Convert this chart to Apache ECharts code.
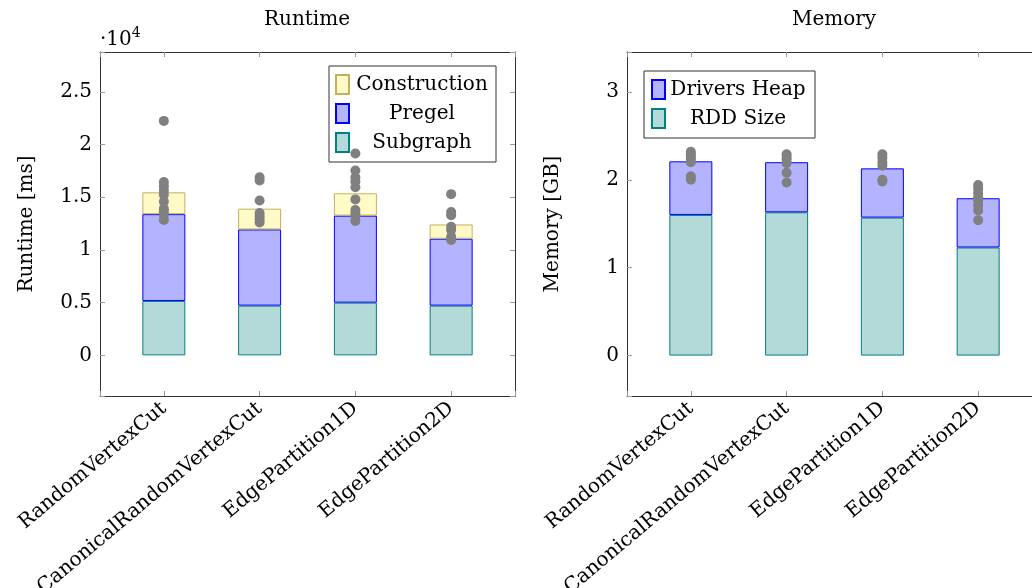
<!DOCTYPE html>
<html><head><meta charset="utf-8">
<script src="https://cdn.jsdelivr.net/npm/echarts@6/dist/echarts.min.js"></script>
<style>html,body{margin:0;padding:0;background:#fff}#c{width:1032px;height:588px}</style>
</head><body><div id="c"></div>
<script>
const categories = ['RandomVertexCut', 'CanonicalRandomVertexCut', 'EdgePartition1D', 'EdgePartition2D'];
// Runtime (ms)
const subgraph = [5160, 4720, 5000, 4720];
const pregel = [8240, 7230, 8260, 6350];
const construction = [2070, 1970, 2120, 1350];
const runtimeSamples = [
  [22250, 16450, 16050, 15650, 15250, 14600, 13900, 13600, 13300, 12850],
  [16900, 16600, 14700, 13500, 13200, 12900, 12600],
  [19150, 17550, 16900, 16500, 15950, 14800, 13800, 13450, 13150, 12750],
  [15300, 13600, 13300, 12200, 11900, 11250, 10950]
];
// Memory (GB)
const rddSize = [1.60, 1.63, 1.57, 1.23];
const driversHeap = [0.61, 0.57, 0.56, 0.56];
const memorySamples = [
  [2.32, 2.29, 2.26, 2.23, 2.20, 2.04, 2.00],
  [2.29, 2.26, 2.23, 2.19, 2.08, 1.97],
  [2.29, 2.25, 2.20, 2.16, 2.00, 1.98],
  [1.94, 1.90, 1.85, 1.80, 1.76, 1.71, 1.65, 1.54]
];
const runtimeTicks = [0, 5000, 10000, 15000, 20000, 25000];
const runtimeTickLabels = ['0', '0.5', '1', '1.5', '2', '2.5'];
const memoryTicks = [0, 1, 2, 3];
const memoryTickLabels = ['0', '1', '2', '3'];

const FONT = 'DejaVu Serif';
const chart = echarts.init(document.getElementById('c'));

function xAxes(gi) {
  const common = {
    type: 'value', gridIndex: gi, min: -2 / 3, max: 11 / 3, splitNumber: 5, minInterval: 1, maxInterval: 1,
    splitLine: {show: false},
    axisLine: {show: true, onZero: false, lineStyle: {color: '#333', width: 1}},
    axisTick: {show: true, inside: true, length: 5, lineStyle: {color: '#999'}}
  };
  return [
    Object.assign({}, common, {position: 'bottom', axisLabel: {
      show: true, rotate: 40, margin: 10, fontFamily: FONT, fontSize: 20, color: '#000',
      formatter: v => { const i = Math.round(v); return (Math.abs(v - i) < 1e-6 && categories[i]) ? categories[i] : ''; }
    }}),
    Object.assign({}, common, {position: 'top', axisLabel: {show: false}})
  ];
}
function yAxes(gi, min, max, step, ticks, labels, name, gap) {
  const common = {
    type: 'value', gridIndex: gi, min: min, max: max, splitNumber: 6, minInterval: step, maxInterval: step,
    splitLine: {show: false},
    axisLine: {show: true, onZero: false, lineStyle: {color: '#333', width: 1}},
    axisTick: {show: true, inside: true, length: 5, lineStyle: {color: '#999'}}
  };
  const fmt = v => { const k = ticks.findIndex(t => Math.abs(t - v) < step * 1e-6); return k < 0 ? '' : labels[k]; };
  return [
    Object.assign({}, common, {position: 'left', name: name, nameLocation: 'middle', nameGap: gap,
      nameTextStyle: {fontFamily: FONT, fontSize: 20, color: '#000'},
      axisLabel: {show: true, margin: 8, fontFamily: FONT, fontSize: 20, color: '#000', formatter: fmt}}),
    Object.assign({}, common, {position: 'right', axisLabel: {show: false}})
  ];
}
function bar(name, vals, xi, yi, stack, fill, border) {
  // value first so that the y dimension is the stacked one
  return {type: 'bar', name: name, xAxisIndex: xi, yAxisIndex: yi, stack: stack, barWidth: 43,
    encode: {x: 1, y: 0},
    data: vals.map((v, i) => [v, i]),
    itemStyle: {color: fill, borderColor: border, borderWidth: 1}};
}
function dots(samples, xi, yi) {
  const d = [];
  samples.forEach((arr, i) => arr.forEach(v => d.push([i, v])));
  return {type: 'scatter', xAxisIndex: xi, yAxisIndex: yi, symbolSize: 10, data: d,
    itemStyle: {color: '#808080', opacity: 1}, z: 5};
}
function legend(names, left, top, pad) {
  return {data: names, orient: 'vertical', left: left, top: top, padding: pad, itemGap: 8,
    itemWidth: 13, itemHeight: 19, icon: 'rect', borderColor: '#333', borderWidth: 1, selectedMode: false,
    formatter: n => '{t|' + n + '}',
    textStyle: {rich: {t: {width: 136, align: 'center', fontFamily: FONT, fontSize: 20, lineHeight: 20, color: '#000'}}}};
}

const titleStyle = {fontFamily: FONT, fontSize: 20, fontWeight: 'normal', color: '#000'};
chart.setOption({
  animation: false,
  backgroundColor: '#fff',
  title: [
    {text: 'Runtime', left: 307, top: 10, textAlign: 'center', padding: 0, textStyle: titleStyle},
    {text: 'Memory', left: 834, top: 10, textAlign: 'center', padding: 0, textStyle: titleStyle},
    {text: '{a|·10}{b|4}', left: 100, top: 26, padding: 0, textStyle: {fontWeight: 'normal', rich: {
      a: {fontFamily: FONT, fontSize: 20, fontWeight: 'normal', color: '#000', lineHeight: 24, verticalAlign: 'bottom'},
      b: {fontFamily: FONT, fontSize: 14, fontWeight: 'normal', color: '#000', lineHeight: 14, verticalAlign: 'top'}}}}
  ],
  grid: [
    {left: 100, top: 52, width: 415, height: 344, containLabel: false, outerBoundsMode: 'none'},
    {left: 627, top: 52, width: 415, height: 344, containLabel: false, outerBoundsMode: 'none'}
  ],
  xAxis: xAxes(0).concat(xAxes(1)),
  yAxis: yAxes(0, -3860, 28790, 5000, runtimeTicks, runtimeTickLabels, 'Runtime [ms]', 63)
    .concat(yAxes(1, -0.46, 3.454, 1, memoryTicks, memoryTickLabels, 'Memory [GB]', 64)),
  legend: [
    legend(['Construction', 'Pregel', 'Subgraph'], 329, 66, [8, 6, 9, 6]),
    legend(['Drivers Heap', 'RDD Size'], 644, 71, [8, 9, 9, 7])
  ],
  series: [
    bar('Subgraph', subgraph, 0, 0, 'rt', '#b3d9d9', '#008080'),
    bar('Pregel', pregel, 0, 0, 'rt', '#b3b3ff', '#0000ff'),
    bar('Construction', construction, 0, 0, 'rt', '#fffac6', '#c0b060'),
    dots(runtimeSamples, 0, 0),
    bar('RDD Size', rddSize, 2, 2, 'mem', '#b3d9d9', '#008080'),
    bar('Drivers Heap', driversHeap, 2, 2, 'mem', '#b3b3ff', '#0000ff'),
    dots(memorySamples, 2, 2)
  ]
});
</script></body></html>
